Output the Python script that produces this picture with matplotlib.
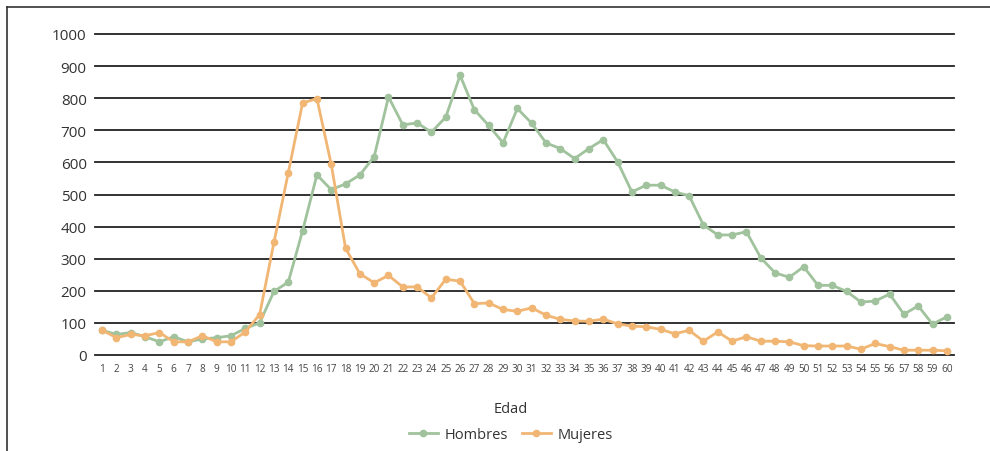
import matplotlib
matplotlib.use("Agg")
import matplotlib.pyplot as plt
from matplotlib.lines import Line2D

plt.rcParams["font.family"] = ["Open Sans", "DejaVu Sans"]

edades = list(range(1, 61))
hombres = [77, 64, 70, 57, 41, 57, 41, 50, 54, 60,
           83, 100, 198, 227, 387, 561, 515, 533, 561, 618,
           804, 717, 723, 694, 741, 871, 764, 715, 661, 768,
           722, 661, 643, 612, 643, 671, 602, 508, 529, 529,
           508, 496, 405, 374, 374, 384, 303, 256, 242, 275,
           217, 217, 198, 165, 168, 190, 127, 153, 96, 119]
mujeres = [77, 54, 64, 60, 70, 41, 41, 60, 41, 41,
           72, 126, 351, 568, 785, 799, 594, 333, 253, 225,
           248, 212, 212, 178, 236, 230, 160, 162, 142, 136,
           147, 124, 111, 106, 105, 112, 97, 90, 88, 80,
           66, 77, 43, 72, 43, 57, 43, 43, 41, 29,
           28, 28, 28, 18, 36, 26, 15, 15, 15, 13]

verde = "#a0c29c"
naranja = "#f1b673"

fig = plt.figure(figsize=(9.9, 4.52), dpi=100)
ax = fig.add_axes([95 / 990, 1 - 356 / 452, (954 - 95) / 990, (356 - 35) / 452])

ax.plot(edades, hombres, color=verde, lw=2, marker="o", ms=4.5, label="Hombres", zorder=3)
ax.plot(edades, mujeres, color=naranja, lw=2, marker="o", ms=4.5, label="Mujeres", zorder=4)

ax.set_xlim(0.5, 60.5)
ax.set_ylim(0, 1000)
ax.set_yticks(range(0, 1001, 100))
ax.set_xticks(edades)
ax.set_xticklabels([str(e) for e in edades], fontsize=7.2, color="#444444")
ax.tick_params(axis="y", length=0, pad=6, labelsize=11, labelcolor="#333333")
ax.tick_params(axis="x", length=0, pad=6)
ax.grid(axis="y", color="#222222", lw=1.3)
for gl in ax.get_ygridlines():
    gl.set_clip_on(False)
ax.set_axisbelow(True)
for s in ax.spines.values():
    s.set_visible(False)

fig.text(511 / 990, 1 - 410 / 452, "Edad", ha="center", va="center", fontsize=10.5, color="#333333")
fig.legend(*ax.get_legend_handles_labels(), loc="center", bbox_to_anchor=(511 / 990, 1 - 436 / 452),
           ncol=2, frameon=False, fontsize=10.5, handlelength=2.0, columnspacing=0.9,
           handletextpad=0.5, labelcolor="#333333")

# marco del recuadro
fig.add_artist(Line2D([7 / 990, 7 / 990], [0, 1 - 8 / 452], color="#333333", lw=1.2))
fig.add_artist(Line2D([7 / 990, 1], [1 - 8 / 452, 1 - 8 / 452], color="#333333", lw=1.2))

fig.savefig("out.png", dpi=100)
